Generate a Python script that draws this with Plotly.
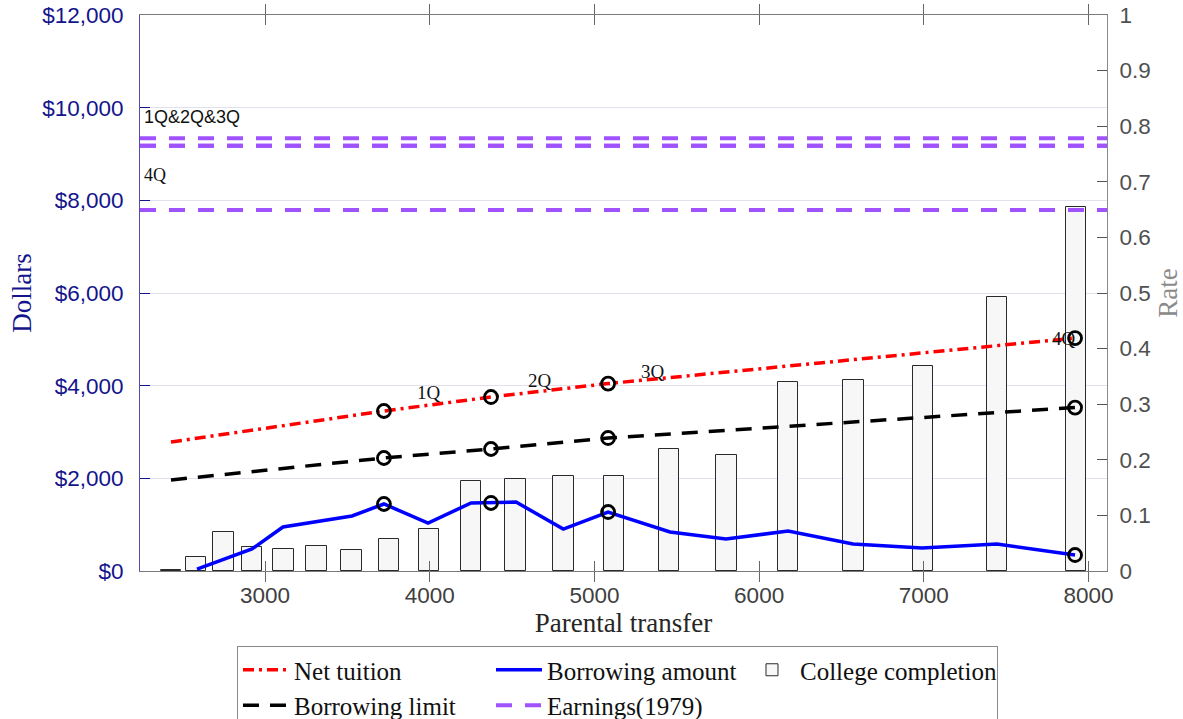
import plotly.graph_objects as go

# ---------------- data ----------------
# college completion bars (rate, right axis)
bar_transfer = [2430, 2581, 2748, 2921, 3112, 3313, 3525, 3753, 3996, 4251,
                4521, 4812, 5119, 5453, 5802, 6175, 6573, 6995, 7444, 7924]
completion = [0.002, 0.025, 0.070, 0.043, 0.040, 0.045, 0.038, 0.058, 0.075, 0.162,
              0.166, 0.171, 0.170, 0.219, 0.208, 0.340, 0.343, 0.369, 0.493, 0.655]

# borrowing amount (dollars)
borrow_transfer = [2587, 2921, 3109, 3528, 3722, 3990, 4251, 4524, 4811, 5083,
                   5459, 5799, 6176, 6570, 6989, 7444, 7918]
borrow_amount = [40, 475, 950, 1187, 1446, 1036, 1468, 1489, 906, 1273,
                 842, 690, 863, 583, 496, 583, 345]

# net tuition and borrowing limit (dollars)
line_transfer = [2429, 3722, 4372, 5083, 7918]
net_tuition = [2784, 3453, 3755, 4045, 5028]
borrow_limit = [1964, 2439, 2633, 2870, 3528]

# quartile markers
quart_transfer = [3722, 4372, 5083, 7918]
quart_borrow = [1446, 1468, 1273, 345]
quart_labels = ["1Q", "2Q", "3Q", "4Q"]
quart_label_x = [3996, 4670, 5356, 7851]
quart_label_y = [3863, 4122, 4316, 5028]

# earnings (1979) by quartile
earnings = [9340, 9180, 9180, 7790]
earn_labels = ["1Q&2Q&3Q", "4Q"]
earn_label_y = [9800, 8546]

x_range = [2241, 8112]
x_ticks = [3000, 4000, 5000, 6000, 7000, 8000]
x_ticktext = ["3000", "4000", "5000", "6000", "7000", "8000"]
dollar_ticks = [0, 2000, 4000, 6000, 8000, 10000, 12000]
dollar_ticktext = ["$0", "$2,000", "$4,000", "$6,000", "$8,000", "$10,000", "$12,000"]
rate_ticks = [0, 0.1, 0.2, 0.3, 0.4, 0.5, 0.6, 0.7, 0.8, 0.9, 1]
rate_ticktext = ["0", "0.1", "0.2", "0.3", "0.4", "0.5", "0.6", "0.7", "0.8", "0.9", "1"]

# ---------------- styles ----------------
NAVY = "#14148c"
SERIF = "Liberation Serif"
SANS = "Liberation Sans"
PURPLE = "#a052ff"

fig = go.Figure()

# legend order: Net tuition, Borrowing amount, College completion, Borrowing limit, Earnings
fig.add_trace(go.Scatter(x=line_transfer, y=net_tuition, yaxis="y2", mode="lines",
                         name="Net tuition",
                         line=dict(color="#ff0000", width=3.5, dash="11px,5px,3px,5px")))
fig.add_trace(go.Scatter(x=borrow_transfer, y=borrow_amount, yaxis="y2", mode="lines",
                         name="Borrowing amount",
                         line=dict(color="#0000ff", width=3.5)))
fig.add_trace(go.Bar(x=bar_transfer, y=completion, yaxis="y", name="College completion",
                     width=125, marker=dict(color="#f7f7f7", line=dict(color="#2a2a2a", width=1))))
fig.add_trace(go.Scatter(x=line_transfer, y=borrow_limit, yaxis="y2", mode="lines",
                         name="Borrowing limit",
                         line=dict(color="#000000", width=3.5, dash="16px,11px")))
for i, e in enumerate(earnings):
    fig.add_trace(go.Scatter(x=x_range, y=[e, e], yaxis="y2", mode="lines",
                             name="Earnings(1979)", showlegend=(i == 0),
                             line=dict(color=PURPLE, width=4, dash="16px,13px")))

# quartile circle markers
for ys in (net_tuition[1:], borrow_limit[1:], quart_borrow):
    fig.add_trace(go.Scatter(x=quart_transfer, y=ys, yaxis="y2", mode="markers",
                             showlegend=False, hoverinfo="skip",
                             marker=dict(symbol="circle-open", size=13, color="#000000",
                                         line=dict(width=2.8, color="#000000"))))

annotations = []
for lab, lx, ly in zip(quart_labels, quart_label_x, quart_label_y):
    annotations.append(dict(x=lx, y=ly, xref="x", yref="y2", text=lab, showarrow=False,
                            font=dict(family=SERIF, size=19, color="#111111")))
annotations.append(dict(x=x_range[0] + 14, y=earn_label_y[0], xref="x", yref="y2",
                        text=earn_labels[0], showarrow=False, xanchor="left",
                        font=dict(family=SANS, size=18, color="#111111")))
annotations.append(dict(x=x_range[0] + 14, y=earn_label_y[1], xref="x", yref="y2",
                        text=earn_labels[1], showarrow=False, xanchor="left",
                        font=dict(family=SERIF, size=18, color="#111111")))

fig.update_layout(
    width=1183, height=719,
    margin=dict(l=140, r=76, t=15, b=148, autoexpand=False),
    paper_bgcolor="white", plot_bgcolor="white",
    bargap=0,
    annotations=annotations,
    xaxis=dict(range=x_range, tickvals=x_ticks, ticktext=x_ticktext, automargin=False,
               ticks="inside", ticklen=10, tickcolor="#666666", tickwidth=1,
               showline=True, linecolor="#7a7a7a", linewidth=1, mirror="allticks",
               showgrid=False, zeroline=False, ticklabelstandoff=4,
               tickfont=dict(family=SANS, size=22.5, color="#404040"),
               title=dict(text="Parental transfer", standoff=5,
                          font=dict(family=SERIF, size=27, color="#262626"))),
    yaxis=dict(range=[0, 1], side="right", tickvals=rate_ticks, ticktext=rate_ticktext,
               automargin=False,
               ticks="inside", ticklen=10, tickcolor="#555555", tickwidth=1,
               showline=True, linecolor="#8a8a8a", linewidth=1,
               showgrid=False, zeroline=False, ticklabelstandoff=7,
               tickfont=dict(family=SANS, size=22.5, color="#505050"),
               title=dict(text="Rate", standoff=12,
                          font=dict(family=SERIF, size=27, color="#8a8a8a"))),
    yaxis2=dict(range=[0, 12000], side="left", overlaying="y", anchor="x",
                tickvals=dollar_ticks, ticktext=dollar_ticktext, automargin=False,
                ticks="inside", ticklen=10, tickcolor=NAVY, tickwidth=1,
                showline=True, linecolor="#5050a8", linewidth=1,
                showgrid=True, gridcolor="#e0e0ef", gridwidth=1, zeroline=False,
                ticklabelstandoff=11,
                tickfont=dict(family=SANS, size=22.5, color=NAVY),
                title=dict(text="Dollars", standoff=2,
                           font=dict(family=SERIF, size=27, color=NAVY))),
    legend=dict(orientation="h", x=0.1003, y=-0.1349, xanchor="left", yanchor="top",
                bgcolor="white", bordercolor="#8a8a8a", borderwidth=1,
                font=dict(family=SERIF, size=25, color="#111111"),
                itemwidth=46, entrywidth=192, entrywidthmode="pixels",
                traceorder="normal"),
    showlegend=True,
)

fig.write_html("out.html")
